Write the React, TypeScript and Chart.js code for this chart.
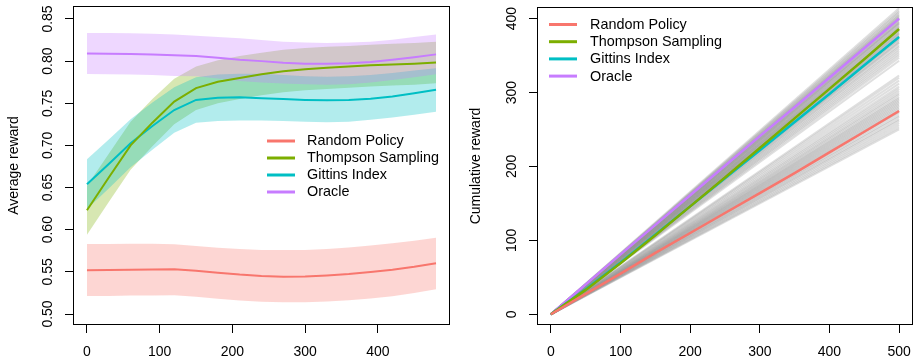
import React, { useEffect, useRef } from "react";
import { Chart, registerables } from "chart.js";

Chart.register(...registerables);

const FONT = "'Liberation Sans', Arial, Helvetica, sans-serif";

// ---------- Left panel: average reward with bands ----------
const steps = [0, 30, 60, 90, 120, 150, 180, 210, 240, 270, 300, 330, 360, 390, 420, 450, 480];

const randomMean = [0.552, 0.5522, 0.5525, 0.5528, 0.553, 0.5512, 0.549, 0.5468, 0.5452, 0.5443, 0.5446, 0.5458, 0.5475, 0.5498, 0.5525, 0.556, 0.5601];
const randomUpper = [0.583, 0.583, 0.5832, 0.5832, 0.5828, 0.5808, 0.5785, 0.577, 0.576, 0.5758, 0.576, 0.5772, 0.579, 0.5812, 0.5838, 0.587, 0.5906];
const randomLower = [0.5214, 0.5215, 0.5218, 0.522, 0.5222, 0.5205, 0.5182, 0.516, 0.5146, 0.5139, 0.514, 0.5148, 0.5162, 0.5185, 0.5212, 0.525, 0.5293];

const thompsonMean = [0.623, 0.662, 0.7, 0.727, 0.752, 0.768, 0.7755, 0.78, 0.7845, 0.788, 0.7905, 0.792, 0.7935, 0.795, 0.796, 0.797, 0.7985];
const thompsonUpper = [0.652, 0.69, 0.728, 0.755, 0.779, 0.7935, 0.801, 0.806, 0.81, 0.8135, 0.8155, 0.817, 0.818, 0.8195, 0.8205, 0.8215, 0.823];
const thompsonLower = [0.594, 0.633, 0.671, 0.699, 0.725, 0.742, 0.75, 0.755, 0.7595, 0.763, 0.7655, 0.767, 0.7685, 0.77, 0.771, 0.772, 0.7738];

const gittinsMean = [0.654, 0.678, 0.7025, 0.723, 0.742, 0.754, 0.7565, 0.757, 0.756, 0.755, 0.754, 0.7535, 0.754, 0.7555, 0.758, 0.762, 0.766];
const gittinsUpper = [0.6835, 0.707, 0.731, 0.751, 0.769, 0.781, 0.784, 0.785, 0.785, 0.7835, 0.782, 0.7815, 0.782, 0.7835, 0.786, 0.789, 0.7915];
const gittinsLower = [0.6245, 0.649, 0.674, 0.695, 0.715, 0.727, 0.729, 0.7295, 0.7295, 0.729, 0.728, 0.7275, 0.728, 0.7305, 0.733, 0.7365, 0.74];

const oracleMean = [0.809, 0.8088, 0.8085, 0.808, 0.807, 0.806, 0.804, 0.8015, 0.8, 0.798, 0.797, 0.7968, 0.7975, 0.799, 0.8015, 0.8045, 0.808];
const oracleUpper = [0.8335, 0.8333, 0.833, 0.8325, 0.8315, 0.83, 0.8285, 0.827, 0.825, 0.823, 0.822, 0.8215, 0.822, 0.823, 0.8255, 0.8285, 0.8315];
const oracleLower = [0.7847, 0.7845, 0.784, 0.7835, 0.7825, 0.782, 0.7795, 0.7765, 0.7745, 0.7735, 0.7725, 0.772, 0.7725, 0.7745, 0.7775, 0.781, 0.7845];

const leftXTicks = [0, 100, 200, 300, 400];
const leftYTicks = [0.5, 0.55, 0.6, 0.65, 0.7, 0.75, 0.8, 0.85];

// ---------- Right panel: cumulative reward ----------
const cumSteps = [0, 50, 100, 150, 200, 250, 300, 350, 400, 450, 500];
const cumRandom = [0, 27.5, 55, 83, 110, 137, 164, 191, 219, 247, 275];
const cumThompson = [0, 33, 69, 107, 146, 185, 225, 265, 305, 345, 386];
const cumGittins = [0, 34, 70, 108, 146, 184, 222, 260, 298, 337, 375];
const cumOracle = [0, 40.5, 81, 121, 161, 201, 241, 280, 320, 360, 400];

// end values (at t = 500) of the individual grey simulation runs
const runEndsUpper = [414, 411, 409, 407, 405, 404, 402, 401, 400, 399, 398, 396, 395, 394, 393, 392, 390, 389, 388, 386, 385, 384, 383, 381, 380, 379, 377, 376, 375, 373, 372, 370, 368, 367, 364, 362, 359, 356, 353, 350, 347, 343];
const runEndsLower = [323, 320, 316, 312, 308, 305, 302, 299, 297, 294, 292, 290, 288, 286, 284, 282, 280, 278, 276, 274, 272, 269, 267, 264, 262, 259, 256, 253, 250];

const rightXTicks = [0, 100, 200, 300, 400, 500];
const rightYTicks = [0, 100, 200, 300, 400];

const seriesNames = ["Random Policy", "Thompson Sampling", "Gittins Index", "Oracle"];
const seriesColors = ["#F8766D", "#7CAE00", "#00BFC4", "#C77CFF"];
const bandColors = [
  "rgba(248,118,109,0.3)",
  "rgba(124,174,0,0.3)",
  "rgba(0,191,196,0.3)",
  "rgba(199,124,255,0.3)",
];

const pts = (xs: number[], ys: number[]) => xs.map((x, i) => ({ x, y: ys[i] }));

const boxPlugin = {
  id: "rbox",
  afterDraw(chart: any) {
    const { ctx, chartArea: a } = chart;
    ctx.save();
    ctx.strokeStyle = "#000";
    ctx.lineWidth = 1;
    const l = Math.round(a.left) + 0.5;
    const t = Math.round(a.top) + 0.5;
    const r = Math.round(a.right) - 0.5;
    const b = Math.round(a.bottom) - 0.5;
    ctx.strokeRect(l, t, r - l, b - t);
    ctx.restore();
  },
};

const legendPlugin = {
  id: "rlegend",
  afterDraw(chart: any, _args: any, opts: any) {
    const { ctx } = chart;
    ctx.save();
    ctx.font = `14.4px ${FONT}`;
    ctx.textBaseline = "middle";
    ctx.textAlign = "left";
    seriesNames.forEach((name, i) => {
      const y = opts.y + i * opts.rowH;
      ctx.strokeStyle = seriesColors[i];
      ctx.lineWidth = 3;
      ctx.beginPath();
      ctx.moveTo(opts.x, y);
      ctx.lineTo(opts.x + opts.lineLen, y);
      ctx.stroke();
      ctx.fillStyle = "#000";
      ctx.fillText(name, opts.textX, y + 0.5);
    });
    ctx.restore();
  },
};

const gridOpts = {
  display: true,
  drawOnChartArea: false,
  drawTicks: true,
  tickLength: 8,
  tickColor: "#000",
  tickWidth: 1,
  color: "#000",
};

function xScale(min: number, max: number, ticks: number[]) {
  return {
    type: "linear",
    position: "bottom",
    min,
    max,
    afterBuildTicks: (s: any) => {
      s.ticks = ticks.map((v) => ({ value: v }));
    },
    afterFit: (s: any) => {
      s.height = 38;
      s.paddingLeft = 0;
      s.paddingRight = 0;
    },
    grid: gridOpts,
    border: { display: false },
    ticks: {
      color: "#000",
      font: { family: FONT, size: 14 },
      padding: 11,
      maxRotation: 0,
      minRotation: 0,
      autoSkip: false,
      callback: (v: any) => String(v),
    },
  };
}

function yScale(min: number, max: number, ticks: number[], width: number, pad: number, title: string, titlePad: number, fmt: (v: number) => string) {
  return {
    type: "linear",
    position: "left",
    min,
    max,
    afterBuildTicks: (s: any) => {
      s.ticks = ticks.map((v) => ({ value: v }));
    },
    afterFit: (s: any) => {
      s.width = width;
      s.paddingTop = 0;
      s.paddingBottom = 0;
    },
    grid: gridOpts,
    border: { display: false },
    ticks: {
      color: "#000",
      font: { family: FONT, size: 14 },
      padding: pad,
      minRotation: 90,
      maxRotation: 90,
      crossAlign: "center",
      autoSkip: false,
      callback: (v: any) => fmt(Number(v)),
    },
    title: {
      display: true,
      text: title,
      color: "#000",
      font: { family: FONT, size: 14 },
      padding: { top: titlePad, bottom: 0 },
    },
  };
}

function LeftChart() {
  const ref = useRef<HTMLCanvasElement>(null);
  useEffect(() => {
    if (!ref.current) return;
    const means = [randomMean, thompsonMean, gittinsMean, oracleMean];
    const uppers = [randomUpper, thompsonUpper, gittinsUpper, oracleUpper];
    const lowers = [randomLower, thompsonLower, gittinsLower, oracleLower];
    const datasets: any[] = [];
    means.forEach((m, i) => {
      datasets.push({
        label: seriesNames[i],
        data: pts(steps, m),
        borderColor: seriesColors[i],
        borderWidth: 2,
        pointRadius: 0,
        fill: false,
        tension: 0,
        order: 0,
      });
    });
    uppers.forEach((u, i) => {
      const upIdx = datasets.length;
      datasets.push({
        label: seriesNames[i] + " upper",
        data: pts(steps, u),
        borderColor: "rgba(0,0,0,0)",
        borderWidth: 0,
        pointRadius: 0,
        backgroundColor: bandColors[i],
        fill: upIdx + 1,
        tension: 0,
        order: 13 - i,
      });
      datasets.push({
        label: seriesNames[i] + " lower",
        data: pts(steps, lowers[i]),
        borderColor: "rgba(0,0,0,0)",
        borderWidth: 0,
        pointRadius: 0,
        fill: false,
        tension: 0,
        order: 20,
      });
    });
    const chart = new Chart(ref.current, {
      type: "line",
      data: { datasets },
      options: {
        animation: false,
        responsive: false,
        events: [],
        layout: { padding: { left: 0, right: 8, top: 6, bottom: 0 } },
        scales: {
          x: xScale(-19.2, 499.2, leftXTicks) as any,
          y: yScale(0.48695, 0.8654, leftYTicks, 73, 3.5, "Average reward", 5.6, (v) => v.toFixed(2)) as any,
        },
        plugins: {
          legend: { display: false },
          tooltip: { enabled: false },
          rlegend: { x: 267, lineLen: 28, textX: 307, y: 141, rowH: 17 },
        } as any,
      },
      plugins: [boxPlugin, legendPlugin],
    });
    return () => chart.destroy();
  }, []);
  return <canvas ref={ref} width={458} height={363} style={{ position: "absolute", left: 0, top: 0, width: 458, height: 363 }} />;
}

function RightChart() {
  const ref = useRef<HTMLCanvasElement>(null);
  useEffect(() => {
    if (!ref.current) return;
    const cums = [cumRandom, cumThompson, cumGittins, cumOracle];
    const datasets: any[] = [];
    cums.forEach((c, i) => {
      datasets.push({
        label: seriesNames[i],
        data: pts(cumSteps, c),
        borderColor: seriesColors[i],
        borderWidth: 2.5,
        pointRadius: 0,
        fill: false,
        tension: 0,
        order: 0,
      });
    });
    [...runEndsUpper, ...runEndsLower].forEach((end, k) => {
      datasets.push({
        label: "run " + k,
        data: pts([0, 500], [0, end]),
        borderColor: "rgba(150,150,150,0.3)",
        borderWidth: 2,
        pointRadius: 0,
        fill: false,
        tension: 0,
        order: 1,
      });
    });
    const chart = new Chart(ref.current, {
      type: "line",
      data: { datasets },
      options: {
        animation: false,
        responsive: false,
        events: [],
        layout: { padding: { left: 0, right: 2, top: 7, bottom: 0 } },
        scales: {
          x: xScale(-20, 520, rightXTicks) as any,
          y: yScale(-14.5, 415.7, rightYTicks, 79, 5.5, "Cumulative reward", 9.6, (v) => String(v)) as any,
        },
        plugins: {
          legend: { display: false },
          tooltip: { enabled: false },
          rlegend: { x: 91, lineLen: 28, textX: 132, y: 24.5, rowH: 17.2 },
        } as any,
      },
      plugins: [boxPlugin, legendPlugin],
    });
    return () => chart.destroy();
  }, []);
  return <canvas ref={ref} width={457} height={363} style={{ position: "absolute", left: 458, top: 0, width: 457, height: 363 }} />;
}

export default function App() {
  return (
    <div style={{ position: "absolute", left: 0, top: 0, width: 915, height: 363, background: "#fff", overflow: "hidden" }}>
      <LeftChart />
      <RightChart />
    </div>
  );
}
